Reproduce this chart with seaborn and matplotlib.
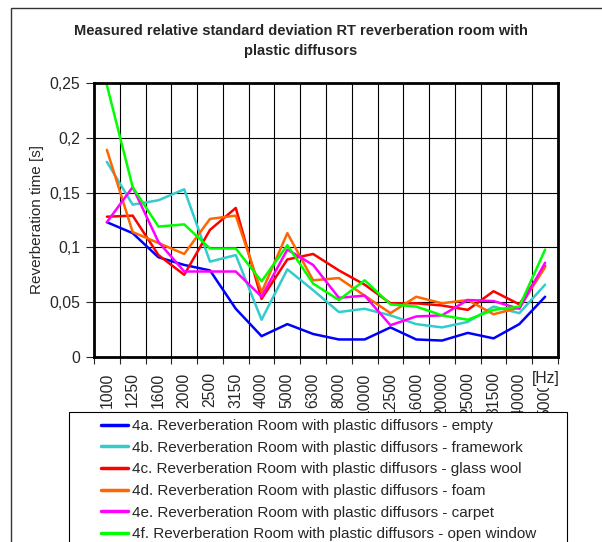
import matplotlib
matplotlib.use("Agg")
import matplotlib.pyplot as plt
import matplotlib.patches as mpatches
from matplotlib.ticker import FixedLocator, FuncFormatter
import seaborn as sns
import pandas as pd

freqs = ["1000", "1250", "1600", "2000", "2500", "3150", "4000", "5000", "6300",
         "8000", "10000", "12500", "16000", "20000", "25000", "31500", "40000", "50000"]

empty = [0.123, 0.113, 0.091, 0.084, 0.079, 0.044, 0.019, 0.030, 0.021,
         0.016, 0.016, 0.027, 0.016, 0.015, 0.022, 0.017, 0.030, 0.055]
framework = [0.178, 0.139, 0.143, 0.153, 0.087, 0.093, 0.034, 0.080, 0.061,
             0.041, 0.044, 0.038, 0.030, 0.027, 0.032, 0.046, 0.040, 0.066]
glass_wool = [0.128, 0.129, 0.093, 0.075, 0.116, 0.136, 0.053, 0.089, 0.094,
              0.079, 0.066, 0.049, 0.049, 0.047, 0.043, 0.060, 0.048, 0.083]
foam = [0.189, 0.114, 0.104, 0.094, 0.126, 0.129, 0.059, 0.113, 0.070,
        0.072, 0.056, 0.040, 0.055, 0.049, 0.052, 0.039, 0.045, 0.082]
carpet = [0.123, 0.155, 0.105, 0.078, 0.078, 0.078, 0.055, 0.098, 0.084,
          0.054, 0.056, 0.029, 0.037, 0.038, 0.052, 0.051, 0.044, 0.086]
open_window = [0.248, 0.155, 0.119, 0.121, 0.099, 0.099, 0.069, 0.102, 0.067,
               0.052, 0.070, 0.048, 0.046, 0.038, 0.034, 0.043, 0.046, 0.098]

prefix = "Reverberation Room with plastic diffusors - "
series = {
    "4a. " + prefix + "empty": empty,
    "4b. " + prefix + "framework": framework,
    "4c. " + prefix + "glass wool": glass_wool,
    "4d. " + prefix + "foam": foam,
    "4e. " + prefix + "carpet": carpet,
    "4f. " + prefix + "open window": open_window,
}
colors = ["#0000FF", "#33CCCC", "#FF0000", "#FF6600", "#FF00FF", "#00FF00"]

rows = []
for name, vals in series.items():
    for f, v in zip(freqs, vals):
        rows.append({"freq": f, "rt": v, "series": name})
df = pd.DataFrame(rows)

sns.set_style("white")
plt.rcParams["font.family"] = ["Liberation Sans", "DejaVu Sans"]
FS = 11.3

fig = plt.figure(figsize=(6.02, 5.42), dpi=100)
ax = fig.add_axes([94 / 602, 1 - 357 / 542, 464 / 602, 274 / 542])

sns.lineplot(data=df, x="freq", y="rt", hue="series", palette=colors,
             linewidth=1.8, ax=ax, legend=False, sort=False)

ax.set_xlim(-0.5, len(freqs) - 0.5)
ax.set_ylim(0, 0.25)
ax.set_yticks([0, 0.05, 0.1, 0.15, 0.2, 0.25])
ax.yaxis.set_major_formatter(FuncFormatter(lambda v, p: f"{v:g}".replace(".", ",")))
ax.set_xticks(range(len(freqs)))
ax.set_xticklabels(freqs, rotation=90, fontsize=FS)
ax.tick_params(axis="x", which="major", length=0, pad=11)
ax.xaxis.set_minor_locator(FixedLocator([i - 0.5 for i in range(len(freqs) + 1)]))
ax.tick_params(axis="x", which="minor", length=5, width=0.8, direction="out", bottom=True)
ax.tick_params(axis="y", length=6, width=0.8, direction="out", left=True, labelsize=FS, pad=4)
ax.grid(True, axis="y", which="major", color="black", linewidth=0.8)
ax.grid(True, axis="x", which="minor", color="black", linewidth=0.8)
ax.set_axisbelow(True)
for s in ax.spines.values():
    s.set_visible(True)
    s.set_color("black")
    s.set_linewidth(2)

ax.set_xlabel("")
ax.set_ylabel("Reverberation time [s]", fontsize=11, labelpad=4)

fig.suptitle("Measured relative standard deviation RT reverberation room with\nplastic diffusors",
             x=0.5, y=1 - 24 / 542, fontsize=10.5, fontweight="bold", linespacing=1.55)

fig.text(532 / 602, 1 - 379 / 542, "[Hz]", fontsize=FS, va="center", ha="left",
         zorder=3, bbox=dict(facecolor="white", edgecolor="none", pad=1.0))

# outer chart border
fig.patches.append(mpatches.Rectangle((11 / 602, -0.05), 1.0, 1 - 8 / 542 + 0.05,
                                      transform=fig.transFigure, fill=False,
                                      edgecolor="#333333", linewidth=1.0))

# legend box (wider than its content, runs past the bottom edge)
fig.patches.append(mpatches.Rectangle((69 / 602, -0.05), 498 / 602, 1 - 412 / 542 + 0.05,
                                      transform=fig.transFigure, facecolor="white",
                                      edgecolor="black", linewidth=0.8, zorder=4))

handles = [plt.Line2D([], [], color=c, linewidth=2.5) for c in colors]
leg = fig.legend(handles, list(series.keys()), loc="upper left",
                 bbox_to_anchor=(101 / 602, 1 - 419 / 542), fontsize=11,
                 frameon=False, handlelength=1.75, handletextpad=0.25,
                 labelspacing=0.5, borderpad=0, borderaxespad=0)
leg.set_zorder(5)

fig.savefig("out.png", dpi=100)
